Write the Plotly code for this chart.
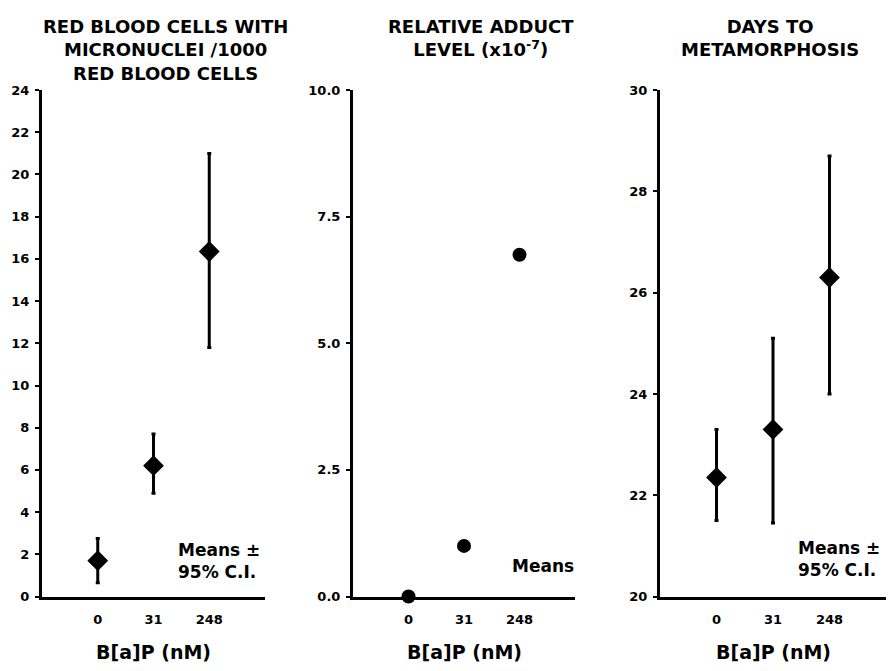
import plotly.graph_objects as go

# ---- data ----
doses = ["0", "31", "248"]

mn_mean = [1.7, 6.2, 16.35]
mn_lo = [0.65, 4.9, 11.8]
mn_hi = [2.75, 7.7, 21.0]

adduct_mean = [0.0, 1.0, 6.75]

days_mean = [22.35, 23.3, 26.3]
days_lo = [21.5, 21.45, 24.0]
days_hi = [23.3, 25.1, 28.7]

mn_ticks = [0, 2, 4, 6, 8, 10, 12, 14, 16, 18, 20, 22, 24]
adduct_ticks = [0.0, 2.5, 5.0, 7.5, 10.0]
adduct_ticktext = ["0.0", "2.5", "5.0", "7.5", "10.0"]
days_ticks = [20, 22, 24, 26, 28, 30]

titles = [
    "RED BLOOD CELLS WITH<br>MICRONUCLEI /1000<br>RED BLOOD CELLS",
    "RELATIVE ADDUCT<br>LEVEL (x10<sup>-7</sup>)",
    "DAYS TO<br>METAMORPHOSIS",
]
xlabel = "B[a]P (nM)"

FONT = "DejaVu Sans"
W, H = 888, 671

def px_x(p):
    return p / W

def px_y(p):
    return 1 - p / H

fig = go.Figure()

def err(hi, lo, mean):
    return dict(type="data", symmetric=False,
                array=[h - m for h, m in zip(hi, mean)],
                arrayminus=[m - l for m, l in zip(mean, lo)],
                color="black", thickness=3, width=2)

# panel 1: error bars + rounded-diamond markers
fig.add_trace(go.Scatter(
    x=doses, y=mn_mean, mode="markers", cliponaxis=False,
    marker=dict(color="black", symbol="diamond", size=16),
    error_y=err(mn_hi, mn_lo, mn_mean),
    xaxis="x", yaxis="y", showlegend=False, hoverinfo="skip"))
fig.add_trace(go.Scatter(
    x=doses, y=mn_mean, mode="markers", cliponaxis=False,
    marker=dict(color="black", symbol="circle", size=13),
    xaxis="x", yaxis="y", showlegend=False))

# panel 2: means only
fig.add_trace(go.Scatter(
    x=doses, y=adduct_mean, mode="markers", cliponaxis=False,
    marker=dict(color="black", symbol="circle", size=14),
    xaxis="x2", yaxis="y2", showlegend=False))

# panel 3
fig.add_trace(go.Scatter(
    x=doses, y=days_mean, mode="markers", cliponaxis=False,
    marker=dict(color="black", symbol="diamond", size=16),
    error_y=err(days_hi, days_lo, days_mean),
    xaxis="x3", yaxis="y3", showlegend=False, hoverinfo="skip"))
fig.add_trace(go.Scatter(
    x=doses, y=days_mean, mode="markers", cliponaxis=False,
    marker=dict(color="black", symbol="circle", size=13),
    xaxis="x3", yaxis="y3", showlegend=False))

ydom = [px_y(603), px_y(85)]
xdoms = [[px_x(42), px_x(265)], [px_x(353), px_x(575)], [px_x(660), px_x(886)]]

tickfont = dict(family=FONT, size=13, color="black", weight="bold")

def xaxis_cfg(dom, anchor):
    return dict(domain=dom, anchor=anchor, type="category", range=[-1, 3],
                showline=True, linewidth=3, linecolor="black", ticks="",
                showgrid=False, zeroline=False,
                tickfont=dict(family=FONT, size=13, color="black", weight="bold"),
                ticklabelstandoff=9, fixedrange=True)

def yaxis_cfg(anchor, rng, tickvals, ticktext=None):
    d = dict(domain=ydom, anchor=anchor, range=rng, tickvals=tickvals,
             showline=True, linewidth=3, linecolor="black", ticks="outside",
             ticklen=4, tickwidth=2, tickcolor="black", showgrid=False,
             zeroline=False, tickfont=tickfont, ticklabelstandoff=3)
    if ticktext is not None:
        d["ticktext"] = ticktext
    return d

fig.update_layout(
    width=W, height=H, margin=dict(l=0, r=0, t=0, b=0),
    paper_bgcolor="white", plot_bgcolor="white",
    font=dict(family=FONT, color="black"),
    xaxis=xaxis_cfg(xdoms[0], "y"),
    xaxis2=xaxis_cfg(xdoms[1], "y2"),
    xaxis3=xaxis_cfg(xdoms[2], "y3"),
    yaxis=yaxis_cfg("x", [0, 24], mn_ticks),
    yaxis2=yaxis_cfg("x2", [0, 10], adduct_ticks, adduct_ticktext),
    yaxis3=yaxis_cfg("x3", [20, 30], days_ticks),
)

title_font = dict(family=FONT, size=18, color="black", weight="bold")
title_x = [165, 481, 770]
for t, xc in zip(titles, title_x):
    fig.add_annotation(text=t, x=px_x(xc), y=px_y(7), xref="paper", yref="paper",
                       xanchor="center", yanchor="top", showarrow=False,
                       font=title_font, align="center")

lab_font = dict(family=FONT, size=19, color="black", weight="bold")
for xr in ["x domain", "x2 domain", "x3 domain"]:
    fig.add_annotation(text=xlabel, x=0.5, y=px_y(660), xref=xr, yref="paper",
                       xanchor="center", yanchor="middle", showarrow=False,
                       font=lab_font)

note_font = dict(family=FONT, size=17, color="black", weight="bold")
fig.add_annotation(text="Means ±<br>95% C.I.", x=px_x(176), y=px_y(543),
                   xref="paper", yref="paper", xanchor="left", yanchor="top",
                   showarrow=False, align="left", font=note_font)
fig.add_annotation(text="Means", x=px_x(510), y=px_y(572),
                   xref="paper", yref="paper", xanchor="left", yanchor="middle",
                   showarrow=False, align="left", font=note_font)
fig.add_annotation(text="Means ±<br>95% C.I.", x=px_x(796), y=px_y(541),
                   xref="paper", yref="paper", xanchor="left", yanchor="top",
                   showarrow=False, align="left", font=note_font)

fig.write_html("out.html")
